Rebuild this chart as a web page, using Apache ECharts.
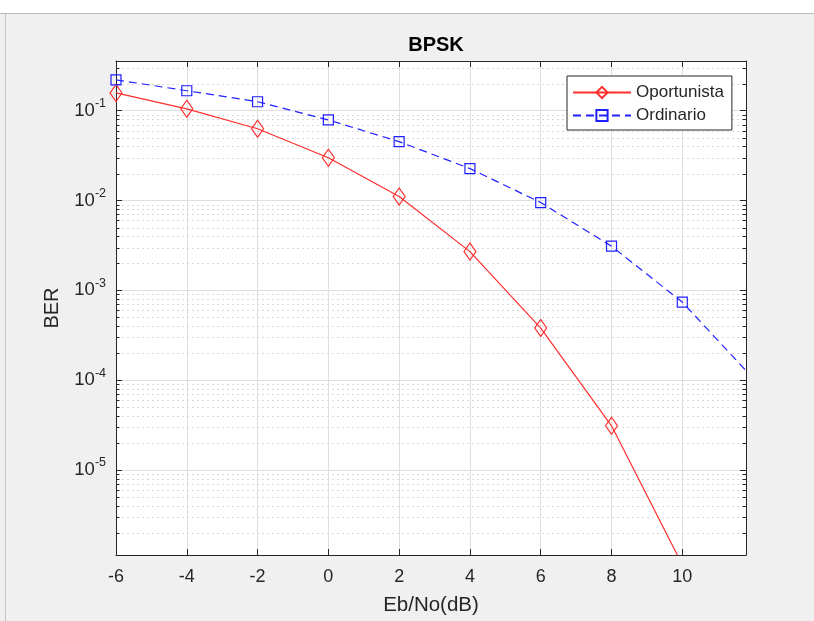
<!DOCTYPE html>
<html>
<head>
<meta charset="utf-8">
<script src="https://cdn.jsdelivr.net/npm/echarts@6/dist/echarts.min.js"></script>
<style>
  html, body { margin: 0; padding: 0; background: #f0f0f0; }
  #chart { width: 814px; height: 621px; }
</style>
</head>
<body>
<div id="chart"></div>
<script>
// Eb/No (dB)
const ebno = [-6, -4, -2, 0, 2, 4, 6, 8, 10, 12];
// BER
const berOportunista = [0.158, 0.105, 0.063, 0.030, 0.0111, 0.0027, 3.8e-4, 3.1e-5, 8.8e-7];
const berOrdinario = [0.221, 0.167, 0.126, 0.079, 0.0453, 0.0227, 0.0095, 0.0031, 7.4e-4, 1.05e-4];

// limites de los ejes
const xMin = -6, xMax = 11.8;
const yMin = 1.13e-6, yMax = 0.358;

// rejilla menor (2..9 x 10^k)
const yMinor = [];
for (let k = -6; k <= -1; k++) {
  for (let m = 2; m <= 9; m++) {
    const v = m * Math.pow(10, k);
    if (v > yMin && v < yMax) yMinor.push(v);
  }
}

const axisColor = '#262626';
const font = 'Liberation Sans, Arial, sans-serif';

function decadeLabel(v) {
  const lg = Math.log10(v);
  const e = Math.round(lg);
  if (Math.abs(lg - e) > 1e-6) return '';
  return '{b|10}{s|' + e + '}';
}

const chart = echarts.init(document.getElementById('chart'));

const option = {
  animation: false,
  backgroundColor: '#f0f0f0',
  textStyle: { fontFamily: font },
  title: {
    text: 'BPSK',
    left: 431,
    top: 30,
    textAlign: 'center',
    textStyle: { fontSize: 20, fontWeight: 'bold', color: '#000', fontFamily: font }
  },
  graphic: [
    { type: 'rect', shape: { x: 0, y: 0, width: 814, height: 13 }, style: { fill: '#fff' } },
    { type: 'line', shape: { x1: 0, y1: 13.5, x2: 814, y2: 13.5 }, style: { stroke: '#b9b9b9', lineWidth: 1 } },
    { type: 'line', shape: { x1: 5.5, y1: 14, x2: 5.5, y2: 621 }, style: { stroke: '#c4c4c4', lineWidth: 1 } }
  ],
  grid: {
    left: 116, top: 61, width: 630, height: 496,
    show: true, backgroundColor: '#fff', borderWidth: 0
  },
  legend: {
    data: ['Oportunista', 'Ordinario'],
    orient: 'vertical',
    left: 567, top: 76,
    itemWidth: 58, itemHeight: 14, itemGap: 6,
    padding: [8, 8, 6, 5],
    backgroundColor: '#fff',
    borderColor: axisColor, borderWidth: 1, borderRadius: 0,
    textStyle: { fontSize: 17, color: axisColor, lineHeight: 16, fontFamily: font }
  },
  xAxis: [
    {
      type: 'value', min: xMin, max: xMax, interval: 2, position: 'bottom',
      axisLine: { onZero: false, lineStyle: { color: axisColor } },
      axisTick: { inside: true, length: 6, lineStyle: { color: axisColor } },
      axisLabel: { showMaxLabel: false, fontSize: 18, color: axisColor, margin: 13, fontFamily: font },
      splitLine: { show: true, lineStyle: { color: '#dfdfdf' } },
      name: 'Eb/No(dB)', nameLocation: 'middle', nameGap: 40,
      nameTextStyle: { fontSize: 20.5, color: axisColor, fontFamily: font }
    },
    {
      type: 'value', min: xMin, max: xMax, interval: 2, position: 'top',
      axisLine: { onZero: false, lineStyle: { color: axisColor } },
      axisTick: { inside: true, length: 6, lineStyle: { color: axisColor } },
      axisLabel: { show: false },
      splitLine: { show: false }
    }
  ],
  yAxis: [
    {
      type: 'log', logBase: 10, min: yMin, max: yMax, position: 'left',
      axisLine: { show: true, onZero: false, lineStyle: { color: axisColor } },
      axisTick: { show: true, inside: true, length: 6, lineStyle: { color: axisColor } },
      axisLabel: {
        showMinLabel: false, showMaxLabel: false, margin: 10,
        color: axisColor, formatter: decadeLabel,
        rich: {
          b: { fontSize: 18.5, color: axisColor, fontFamily: font },
          s: { fontSize: 12.5, color: axisColor, fontFamily: font, padding: [0, 0, 14, 0] }
        }
      },
      splitLine: { show: true, lineStyle: { color: '#dfdfdf' } },
      name: 'BER', nameLocation: 'middle', nameGap: 54,
      nameTextStyle: { fontSize: 20, color: axisColor, fontFamily: font }
    },
    {
      type: 'log', logBase: 10, min: yMin, max: yMax, position: 'right',
      axisLine: { show: true, onZero: false, lineStyle: { color: axisColor } },
      axisTick: { show: true, inside: true, length: 6, lineStyle: { color: axisColor } },
      axisLabel: { show: false },
      splitLine: { show: false }
    }
  ],
  series: [
    {
      type: 'custom',
      silent: true,
      z: 1,
      clip: false,
      data: yMinor.map(v => [xMin, v]),
      renderItem: (params, api) => {
        const v = api.value(1);
        const p1 = api.coord([xMin, v]);
        const p2 = api.coord([xMax, v]);
        const y = Math.round(p1[1]) + 0.5;
        return {
          type: 'group',
          children: [
            { type: 'line', shape: { x1: p1[0] + 1, y1: y, x2: p2[0] - 1, y2: y },
              style: { stroke: '#d9d9d9', lineWidth: 1, lineDash: [2, 3] } },
            { type: 'line', shape: { x1: p1[0], y1: y, x2: p1[0] + 3.5, y2: y },
              style: { stroke: axisColor, lineWidth: 1 } },
            { type: 'line', shape: { x1: p2[0] - 3.5, y1: y, x2: p2[0], y2: y },
              style: { stroke: axisColor, lineWidth: 1 } }
          ]
        };
      }
    },
    {
      name: 'Oportunista',
      type: 'line',
      z: 5,
      clip: true,
      data: berOportunista.map((v, i) => [ebno[i], v]),
      symbol: 'diamond',
      symbolSize: [12, 17],
      itemStyle: { color: 'rgba(255,255,255,0)', borderColor: '#ff2e2e', borderWidth: 1.2 },
      lineStyle: { color: '#ff2e2e', width: 1.2 }
    },
    {
      name: 'Ordinario',
      type: 'line',
      z: 5,
      clip: true,
      data: berOrdinario.map((v, i) => [ebno[i], v]),
      symbol: 'rect',
      symbolSize: 10,
      itemStyle: { color: 'rgba(255,255,255,0)', borderColor: '#2020ff', borderWidth: 1.2 },
      lineStyle: { color: '#2020ff', width: 1.2, type: [8, 5] }
    }
  ]
};

chart.setOption(option);
</script>
</body>
</html>
